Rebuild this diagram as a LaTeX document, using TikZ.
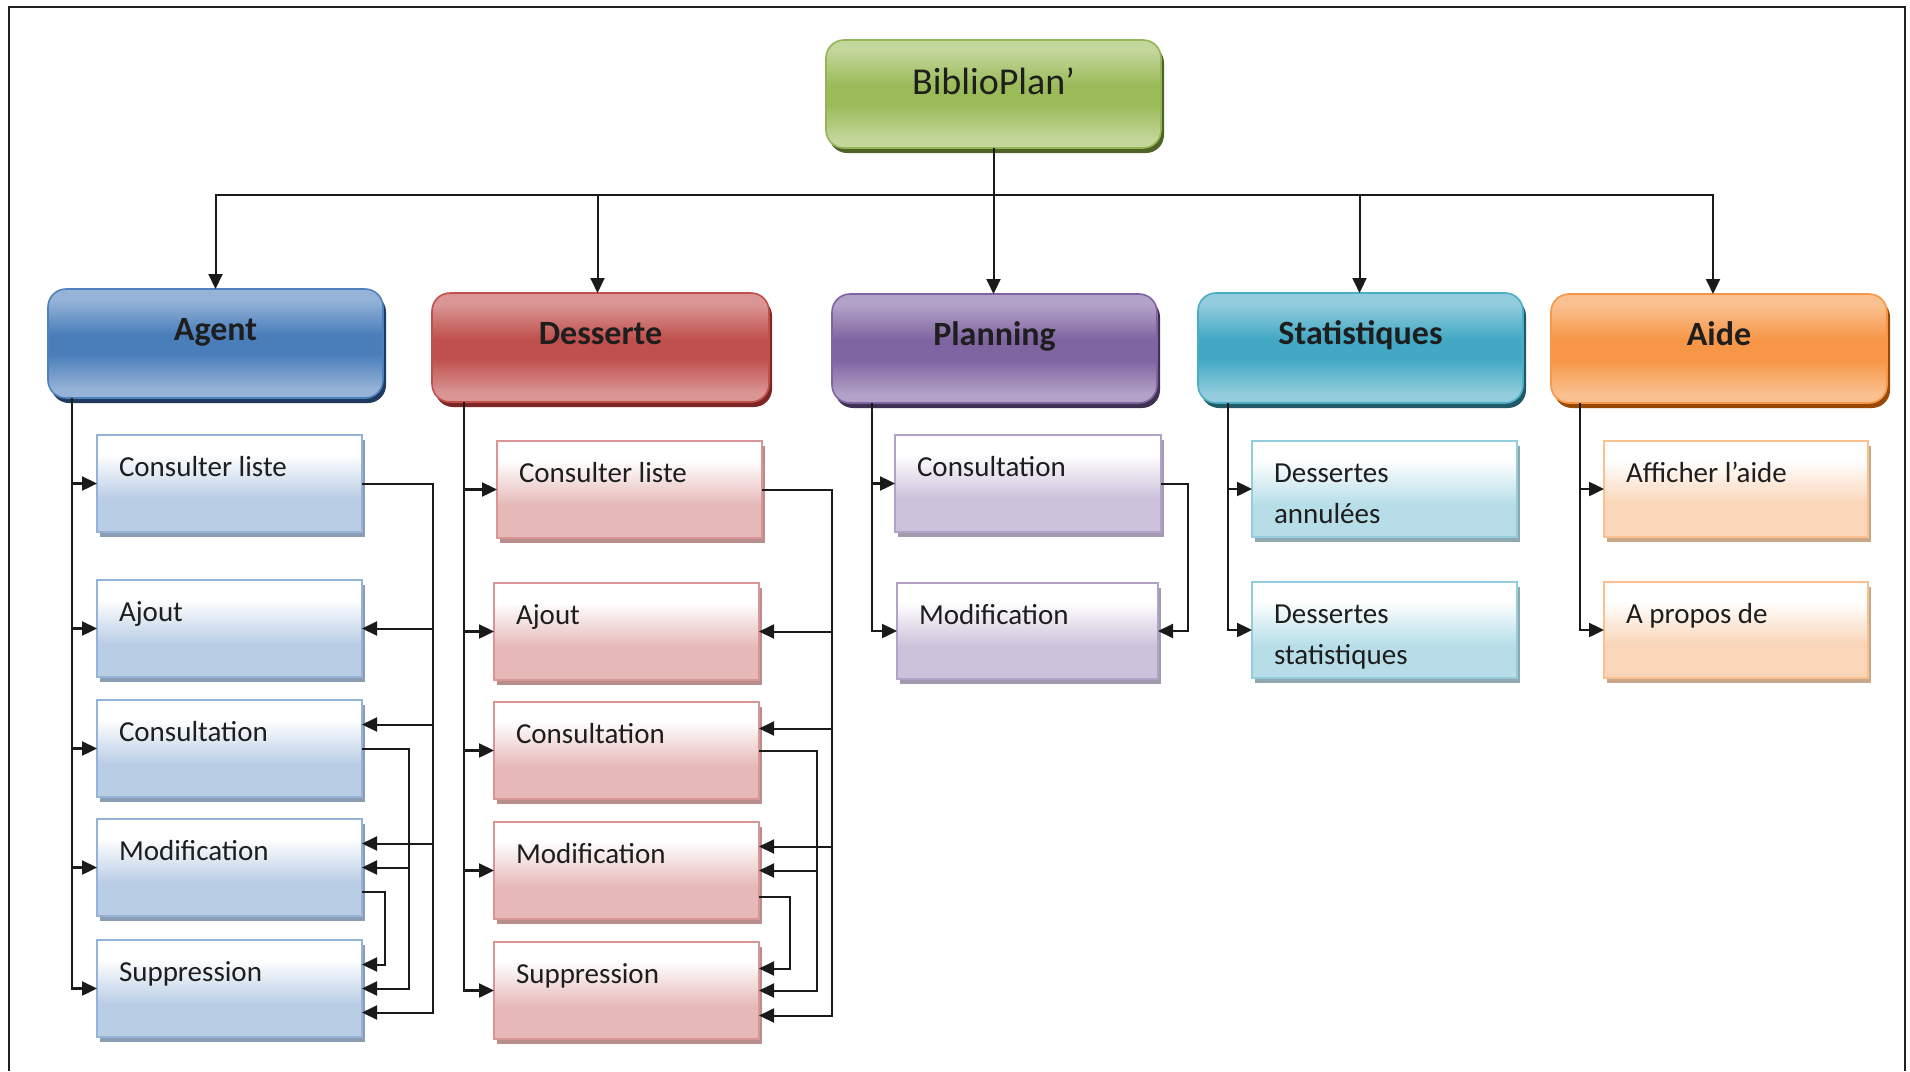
\documentclass[tikz,border=0pt]{standalone}
\usepackage{fontspec}
\setmainfont{Carlito}
\usetikzlibrary{arrows.meta,shadows}
% text / links
\definecolor{txt}{HTML}{1E1E1E}
\definecolor{lk}{HTML}{1A1A1A}
\definecolor{frm}{HTML}{202020}
% root green
\definecolor{grL}{HTML}{C3D69B}\definecolor{grM}{HTML}{9BBB59}\definecolor{grB}{HTML}{93B557}\definecolor{grS}{HTML}{4F6228}
% agent blue
\definecolor{agL}{HTML}{95B3D7}\definecolor{agM}{HTML}{4A7EBB}\definecolor{agB}{HTML}{4F81BD}\definecolor{agS}{HTML}{1F3A5F}
\definecolor{agT}{HTML}{B9CDE5}\definecolor{agSB}{HTML}{95B3D7}\definecolor{agSS}{HTML}{8B9DB4}
% desserte red
\definecolor{deL}{HTML}{DA9694}\definecolor{deM}{HTML}{C0504D}\definecolor{deB}{HTML}{C0504D}\definecolor{deS}{HTML}{7D2624}
\definecolor{deT}{HTML}{E6B9B8}\definecolor{deSB}{HTML}{D99694}\definecolor{deSS}{HTML}{B88E8D}
% planning purple
\definecolor{plL}{HTML}{B3A2C7}\definecolor{plM}{HTML}{7F64A2}\definecolor{plB}{HTML}{8064A2}\definecolor{plS}{HTML}{3F3151}
\definecolor{plT}{HTML}{CCC1DA}\definecolor{plSB}{HTML}{B3A2C7}\definecolor{plSS}{HTML}{A39AAF}
% statistiques teal
\definecolor{stL}{HTML}{93CDDD}\definecolor{stM}{HTML}{42A8C4}\definecolor{stB}{HTML}{4BACC6}\definecolor{stS}{HTML}{215967}
\definecolor{stT}{HTML}{B7DEE8}\definecolor{stSB}{HTML}{93CDDD}\definecolor{stSS}{HTML}{8FA9AF}
% aide orange
\definecolor{aiL}{HTML}{FAC090}\definecolor{aiM}{HTML}{F79646}\definecolor{aiB}{HTML}{F79646}\definecolor{aiS}{HTML}{984807}
\definecolor{aiT}{HTML}{FAD5B7}\definecolor{aiSB}{HTML}{FAC090}\definecolor{aiSS}{HTML}{C9A88A}
% header shadings (0bp = bottom; visible band is 25bp..75bp)
\pgfdeclareverticalshading{shRoot}{100bp}{color(0bp)=(grL); color(29bp)=(grL); color(45bp)=(grM); color(54bp)=(grM); color(70bp)=(grL); color(100bp)=(grL)}
\pgfdeclareverticalshading{shAgent}{100bp}{color(0bp)=(agL); color(29bp)=(agL); color(45bp)=(agM); color(54bp)=(agM); color(70bp)=(agL); color(100bp)=(agL)}
\pgfdeclareverticalshading{shDess}{100bp}{color(0bp)=(deL); color(29bp)=(deL); color(45bp)=(deM); color(54bp)=(deM); color(70bp)=(deL); color(100bp)=(deL)}
\pgfdeclareverticalshading{shPlan}{100bp}{color(0bp)=(plL); color(29bp)=(plL); color(45bp)=(plM); color(54bp)=(plM); color(70bp)=(plL); color(100bp)=(plL)}
\pgfdeclareverticalshading{shStat}{100bp}{color(0bp)=(stL); color(29bp)=(stL); color(45bp)=(stM); color(54bp)=(stM); color(70bp)=(stL); color(100bp)=(stL)}
\pgfdeclareverticalshading{shAide}{100bp}{color(0bp)=(aiL); color(29bp)=(aiL); color(45bp)=(aiM); color(54bp)=(aiM); color(70bp)=(aiL); color(100bp)=(aiL)}
% sub-box shadings
\pgfdeclareverticalshading{sbAgent}{100bp}{color(0bp)=(agT); color(42bp)=(agT); color(65bp)=(white); color(100bp)=(white)}
\pgfdeclareverticalshading{sbDess}{100bp}{color(0bp)=(deT); color(42bp)=(deT); color(65bp)=(white); color(100bp)=(white)}
\pgfdeclareverticalshading{sbPlan}{100bp}{color(0bp)=(plT); color(42bp)=(plT); color(65bp)=(white); color(100bp)=(white)}
\pgfdeclareverticalshading{sbStat}{100bp}{color(0bp)=(stT); color(42bp)=(stT); color(65bp)=(white); color(100bp)=(white)}
\pgfdeclareverticalshading{sbAide}{100bp}{color(0bp)=(aiT); color(42bp)=(aiT); color(65bp)=(white); color(100bp)=(white)}
% sub-box text: width, height, text
\newcommand{\sbt}[3]{\parbox[c][#2][t]{#1}{\raggedright\leftskip=22pt\rule{0pt}{41pt}#3}}
\begin{document}
\begin{tikzpicture}[x=1pt,y=-1pt,
  hdr/.style={draw, line width=1.6pt, rounded corners=18pt, anchor=north west, inner sep=0pt, outer sep=0pt, shade, text=txt, font=\fontsize{34}{40}\selectfont\bfseries, text height=24pt, text depth=31pt},
  sub/.style={draw, line width=1.5pt, anchor=north west, inner sep=0pt, outer sep=0pt, shade, text=txt, font=\fontsize{29}{41}\selectfont},
  conn/.style={line width=2pt, draw=lk, -{Triangle[length=15pt,width=14pt]}},
  trunk/.style={conn, line width=2.4pt},
  hRoot/.style={shading=shRoot, draw=grB, drop shadow={shadow xshift=3pt, shadow yshift=-5pt, opacity=1, fill=grS}},
  hAgent/.style={shading=shAgent, draw=agB, drop shadow={shadow xshift=3pt, shadow yshift=-5pt, opacity=1, fill=agS}},
  hDess/.style={shading=shDess, draw=deB, drop shadow={shadow xshift=3pt, shadow yshift=-5pt, opacity=1, fill=deS}},
  hPlan/.style={shading=shPlan, draw=plB, drop shadow={shadow xshift=3pt, shadow yshift=-5pt, opacity=1, fill=plS}},
  hStat/.style={shading=shStat, draw=stB, drop shadow={shadow xshift=3pt, shadow yshift=-5pt, opacity=1, fill=stS}},
  hAide/.style={shading=shAide, draw=aiB, drop shadow={shadow xshift=3pt, shadow yshift=-5pt, opacity=1, fill=aiS}},
  sAgent/.style={sub, shading=sbAgent, draw=agSB, drop shadow={shadow xshift=3pt, shadow yshift=-5pt, opacity=1, fill=agSS}},
  sDess/.style={sub, shading=sbDess, draw=deSB, drop shadow={shadow xshift=3pt, shadow yshift=-5pt, opacity=1, fill=deSS}},
  sPlan/.style={sub, shading=sbPlan, draw=plSB, drop shadow={shadow xshift=3pt, shadow yshift=-5pt, opacity=1, fill=plSS}},
  sStat/.style={sub, shading=sbStat, draw=stSB, drop shadow={shadow xshift=3pt, shadow yshift=-5pt, opacity=1, fill=stSS}},
  sAide/.style={sub, shading=sbAide, draw=aiSB, drop shadow={shadow xshift=3pt, shadow yshift=-5pt, opacity=1, fill=aiSS}},
]
\useasboundingbox (0,0) rectangle (1910,1071);
% frame
\draw[line width=2.5pt, draw=frm] (9,1071) -- (9,7) -- (1905,7) -- (1905,1071);

\node[hdr, hRoot, minimum width=335pt, minimum height=108pt, font=\fontsize{38}{44}\selectfont, text height=26pt, text depth=26pt] (root) at (826,40) {BiblioPlan’};

\node[hdr, hAgent, minimum width=335pt, minimum height=109pt] (agent) at (48,289) {Agent};
\node[hdr, hDess, minimum width=337pt, minimum height=109pt] (dess) at (432,293) {Desserte};
\node[hdr, hPlan, minimum width=325pt, minimum height=109pt] (plan) at (832,294) {Planning};
\node[hdr, hStat, minimum width=325pt, minimum height=110pt] (stat) at (1198,293) {Statistiques};
\node[hdr, hAide, minimum width=336pt, minimum height=109pt] (aide) at (1551,294) {Aide};

% Agent sub-boxes
\node[sAgent] (a1) at (97,435) {\sbt{265pt}{97pt}{Consulter liste}};
\node[sAgent] (a2) at (97,580) {\sbt{265pt}{97pt}{Ajout}};
\node[sAgent] (a3) at (97,700) {\sbt{265pt}{97pt}{Consultation}};
\node[sAgent] (a4) at (97,819) {\sbt{265pt}{97pt}{Modification}};
\node[sAgent] (a5) at (97,940) {\sbt{265pt}{97pt}{Suppression}};
% Desserte sub-boxes
\node[sDess] (d1) at (497,441) {\sbt{265pt}{97pt}{Consulter liste}};
\node[sDess] (d2) at (494,583) {\sbt{265pt}{97pt}{Ajout}};
\node[sDess] (d3) at (494,702) {\sbt{265pt}{97pt}{Consultation}};
\node[sDess] (d4) at (494,822) {\sbt{265pt}{97pt}{Modification}};
\node[sDess] (d5) at (494,942) {\sbt{265pt}{97pt}{Suppression}};
% Planning sub-boxes
\node[sPlan] (p1) at (895,435) {\sbt{266pt}{97pt}{Consultation}};
\node[sPlan] (p2) at (897,583) {\sbt{261pt}{96pt}{Modification}};
% Statistiques sub-boxes
\node[sStat] (s1) at (1252,441) {\sbt{265pt}{96pt}{Dessertes\\annulées}};
\node[sStat] (s2) at (1252,582) {\sbt{265pt}{96pt}{Dessertes\\statistiques}};
% Aide sub-boxes
\node[sAide] (h1) at (1604,441) {\sbt{264pt}{96pt}{Afficher l’aide}};
\node[sAide] (h2) at (1604,582) {\sbt{264pt}{96pt}{A propos de}};

% top-level connectors
\draw[conn] (root.south) -- ++(0,47) -| (agent.north);
\draw[conn] (root.south) -- ++(0,47) -| ([xshift=-3pt]dess.north);
\draw[conn] (root.south) -- (root.south |- plan.north);
\draw[conn] (root.south) -- ++(0,47) -| ([xshift=-1pt]stat.north);
\draw[conn] (root.south) -- ++(0,47) -| ([xshift=-6pt]aide.north);

% Agent trunk
\foreach \n in {a1,a2,a3,a4,a5}
  \draw[trunk] ([xshift=24pt]agent.south west) |- (\n.west);
% Agent right-side links
\draw[conn] (a1.east) -- ++(71,0) |- (a2.east);
\draw[conn] (a1.east) -- ++(71,0) |- ([yshift=24pt]a3.east);
\draw[conn] (a1.east) -- ++(71,0) |- ([yshift=24pt]a4.east);
\draw[conn] (a1.east) -- ++(71,0) |- ([yshift=-24pt]a5.east);
\draw[conn] (a3.east) -- ++(47,0) |- (a4.east);
\draw[conn] (a3.east) -- ++(47,0) |- (a5.east);
\draw[conn] ([yshift=-24pt]a4.east) -- ++(23,0) |- ([yshift=24pt]a5.east);

% Desserte trunk
\foreach \n in {d1,d2,d3,d4,d5}
  \draw[trunk] ([xshift=32pt]dess.south west) |- (\n.west);
% Desserte right-side links
\draw[conn] (d1.east) -- ++(70,0) |- (d2.east);
\draw[conn] (d1.east) -- ++(70,0) |- ([yshift=22pt]d3.east);
\draw[conn] (d1.east) -- ++(70,0) |- ([yshift=24pt]d4.east);
\draw[conn] (d1.east) -- ++(70,0) |- ([yshift=-25pt]d5.east);
\draw[conn] (d3.east) -- ++(58,0) |- (d4.east);
\draw[conn] (d3.east) -- ++(58,0) |- (d5.east);
\draw[conn] ([yshift=-26pt]d4.east) -- ++(31,0) |- ([yshift=22pt]d5.east);

% Planning
\foreach \n in {p1,p2}
  \draw[trunk] ([xshift=40pt]plan.south west) |- (\n.west);
\draw[conn] (p1.east) -- ++(27,0) |- (p2.east);

% Statistiques
\foreach \n in {s1,s2}
  \draw[trunk] ([xshift=30pt]stat.south west) |- (\n.west);

% Aide
\foreach \n in {h1,h2}
  \draw[trunk] ([xshift=29pt]aide.south west) |- (\n.west);
\end{tikzpicture}
\end{document}
